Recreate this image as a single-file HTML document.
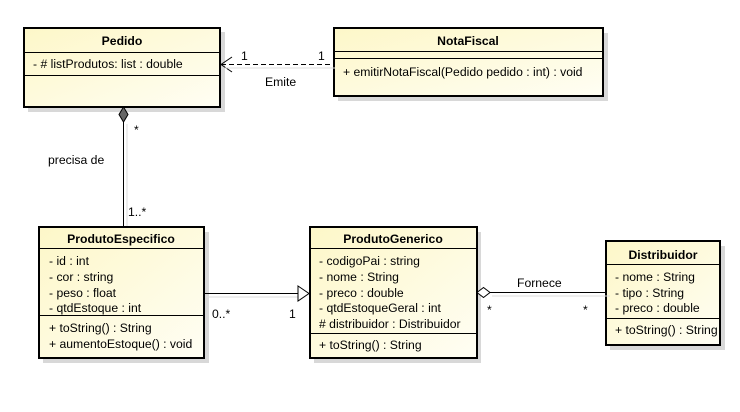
<!DOCTYPE html>
<html><head><meta charset="utf-8"><style>
html,body{margin:0;padding:0;background:#fff;}
svg text{font-family:"Liberation Sans",Arial,sans-serif;font-size:12.2px;fill:#000;}
.b{font-weight:bold;}
</style></head><body>
<svg width="740" height="407" viewBox="0 0 740 407" xmlns="http://www.w3.org/2000/svg">
<defs>
<linearGradient id="g" x1="0" y1="0" x2="1" y2="1">
<stop offset="0" stop-color="#fdf7c8"/><stop offset="1" stop-color="#fffef4"/>
</linearGradient>
</defs>
<g fill="#d8d8d8">
<rect x="28" y="32" width="197" height="80"/>
<rect x="338" y="33" width="270" height="68"/>
<rect x="43" y="232" width="166" height="131"/>
<rect x="314" y="232" width="167" height="131"/>
<rect x="610" y="246" width="115" height="104"/>
</g>
<g fill="url(#g)" stroke="#000" stroke-width="2">
<rect x="24" y="28" width="196" height="79"/>
<rect x="334" y="28" width="269" height="68"/>
<rect x="39" y="227" width="165" height="131"/>
<rect x="310" y="227" width="167" height="131"/>
<rect x="606" y="241" width="114" height="104"/>
</g>
<g stroke="#000" stroke-width="1">
<line x1="24" y1="52.5" x2="220" y2="52.5"/><line x1="24" y1="75.5" x2="220" y2="75.5"/>
<line x1="334" y1="51.5" x2="603" y2="51.5"/><line x1="334" y1="58.5" x2="603" y2="58.5"/>
<line x1="39" y1="248.5" x2="204" y2="248.5"/><line x1="39" y1="315.5" x2="204" y2="315.5"/>
<line x1="310" y1="248.5" x2="477" y2="248.5"/><line x1="310" y1="333.5" x2="477" y2="333.5"/>
<line x1="606" y1="264.5" x2="720" y2="264.5"/><line x1="606" y1="318.5" x2="720" y2="318.5"/>
</g>
<g fill="none" stroke="#000" stroke-width="1">
<line x1="221" y1="64.5" x2="333" y2="64.5" stroke-dasharray="5,3"/>
<polyline points="232,57 221,64.5 232,72"/>
<line x1="123.5" y1="122" x2="123.5" y2="226"/>
<line x1="205" y1="293.5" x2="298" y2="293.5"/>
<line x1="490" y1="292.5" x2="605" y2="292.5"/>
</g>
<g stroke="#ddd" fill="none"><line x1="225" y1="68" x2="335" y2="68"/><line x1="127" y1="124" x2="127" y2="226"/><line x1="205" y1="297" x2="298" y2="297"/><line x1="492" y1="296" x2="610" y2="296"/></g>
<polygon points="123.5,107 128,114.5 123.5,122 119,114.5" fill="#666" stroke="#000"/>
<polygon points="298,286 309,293.5 298,301" fill="#fff" stroke="#000"/>
<polygon points="477,292.5 483.5,287.5 490,292.5 483.5,297.5" fill="#fff" stroke="#000"/>
<text class="b" x="122" y="45" text-anchor="middle">Pedido</text>
<text x="33" y="68">- # listProdutos: list : double</text>
<text class="b" x="468" y="45" text-anchor="middle">NotaFiscal</text>
<text x="343" y="76">+ emitirNotaFiscal(Pedido pedido : int) : void</text>
<text class="b" x="121" y="243" text-anchor="middle">ProdutoEspecifico</text>
<text x="49" y="265">- id : int</text>
<text x="49" y="281">- cor : string</text>
<text x="49" y="297">- peso : float</text>
<text x="49" y="312">- qtdEstoque : int</text>
<text x="49" y="332">+ toString() : String</text>
<text x="49" y="348">+ aumentoEstoque() : void</text>
<text class="b" x="393" y="243" text-anchor="middle">ProdutoGenerico</text>
<text x="319" y="265">- codigoPai : string</text>
<text x="319" y="281">- nome : String</text>
<text x="319" y="297">- preco : double</text>
<text x="319" y="312">- qtdEstoqueGeral : int</text>
<text x="319" y="328"># distribuidor : Distribuidor</text>
<text x="319" y="349">+ toString() : String</text>
<text class="b" x="663" y="259" text-anchor="middle">Distribuidor</text>
<text x="615" y="281">- nome : String</text>
<text x="615" y="297">- tipo : String</text>
<text x="615" y="312">- preco : double</text>
<text x="615" y="334">+ toString() : String</text>
<text x="241" y="60">1</text><text x="318" y="60">1</text>
<text x="265" y="86">Emite</text>
<text x="134" y="134">*</text>
<text x="48" y="164">precisa de</text>
<text x="128" y="216">1..*</text>
<text x="212" y="318">0..*</text>
<text x="289" y="318">1</text>
<text x="517" y="287">Fornece</text>
<text x="487" y="314">*</text><text x="583" y="314">*</text>
</svg>
</body></html>
